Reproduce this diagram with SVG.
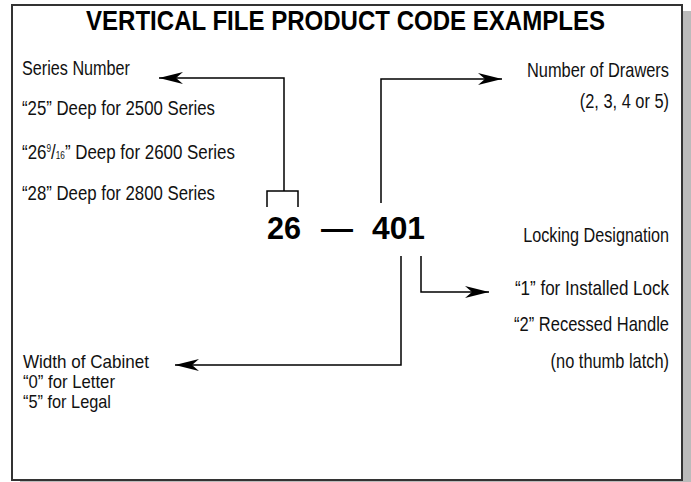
<svg xmlns="http://www.w3.org/2000/svg" width="691" height="482" viewBox="0 0 691 482">
  <style>
    .lbl { font-family: "Liberation Sans", Arial, sans-serif; font-size: 20.5px; fill: #111; }
    .tight { font-size: 19px; }
    .end { text-anchor: end; }
    .title { font-family: "Liberation Sans", Arial, sans-serif; font-size: 27px; font-weight: bold; fill: #000; }
    .code { font-family: "Liberation Sans", Arial, sans-serif; font-size: 31px; font-weight: bold; fill: #000; }
    .conn { fill: none; stroke: #000; stroke-width: 1.5; }
  </style>
  <defs>
    <marker id="ah" markerUnits="userSpaceOnUse" markerWidth="26" markerHeight="14" refX="24" refY="7" orient="auto">
      <path d="M0,1 L24,7 L0,13 L7,7 Z" fill="#000"/>
    </marker>
  </defs>

  <rect x="0" y="0" width="691" height="482" fill="#fff"/>
  <g id="frame">
    <rect x="20" y="11" width="671" height="471" fill="#bbb"/>
    <rect x="12" y="5" width="670" height="475" fill="#fff" stroke="#333" stroke-width="2"/>
  </g>

  <g id="title">
    <text class="title" x="86" y="30" textLength="519" lengthAdjust="spacingAndGlyphs">VERTICAL FILE PRODUCT CODE EXAMPLES</text>
  </g>

  <g id="code">
    <text class="code" y="239"><tspan x="267" textLength="34" lengthAdjust="spacingAndGlyphs">26</tspan><tspan x="321" textLength="32" lengthAdjust="spacingAndGlyphs">—</tspan><tspan x="372" textLength="53" lengthAdjust="spacingAndGlyphs">401</tspan></text>
  </g>

  <g id="series">
    <text class="lbl" x="22" y="75" textLength="108" lengthAdjust="spacingAndGlyphs">Series Number</text>
    <text class="lbl" x="22" y="115" textLength="193" lengthAdjust="spacingAndGlyphs">“25” Deep for 2500 Series</text>
    <text class="lbl" transform="translate(22,159) scale(0.825,1)">“26<tspan font-size="10" dy="-7">9</tspan><tspan dy="7">/</tspan><tspan font-size="10">16</tspan>” Deep for 2600 Series</text>
    <text class="lbl" x="22" y="200" textLength="193" lengthAdjust="spacingAndGlyphs">“28” Deep for 2800 Series</text>
  </g>

  <g id="drawers">
    <text class="lbl end" transform="translate(669,77) scale(0.8,1)">Number of Drawers</text>
    <text class="lbl end" transform="translate(669,108) scale(0.8,1)">(2, 3, 4 or 5)</text>
  </g>

  <g id="locking">
    <text class="lbl end" transform="translate(669,242) scale(0.79,1)">Locking Designation</text>
    <text class="lbl end" transform="translate(669,295) scale(0.83,1)">“1” for Installed Lock</text>
    <text class="lbl end" transform="translate(669,331) scale(0.805,1)">“2” Recessed Handle</text>
    <text class="lbl end" transform="translate(669,368) scale(0.8,1)">(no thumb latch)</text>
  </g>

  <g id="width">
    <text class="lbl tight" x="23" y="368" textLength="126" lengthAdjust="spacingAndGlyphs">Width of Cabinet</text>
    <text class="lbl tight" x="23" y="388" textLength="92" lengthAdjust="spacingAndGlyphs">“0” for Letter</text>
    <text class="lbl tight" x="23" y="408" textLength="88" lengthAdjust="spacingAndGlyphs">“5” for Legal</text>
  </g>

  <g id="connectors">
    <path class="conn" d="M267,207 V191 H298 V207"/>
    <path class="conn" d="M284,191 V78 H159" marker-end="url(#ah)"/>
    <path class="conn" d="M381,203 V79 H502" marker-end="url(#ah)"/>
    <path class="conn" d="M421,256 V292 H489" marker-end="url(#ah)"/>
    <path class="conn" d="M401,256 V365 H175" marker-end="url(#ah)"/>
  </g>
</svg>
